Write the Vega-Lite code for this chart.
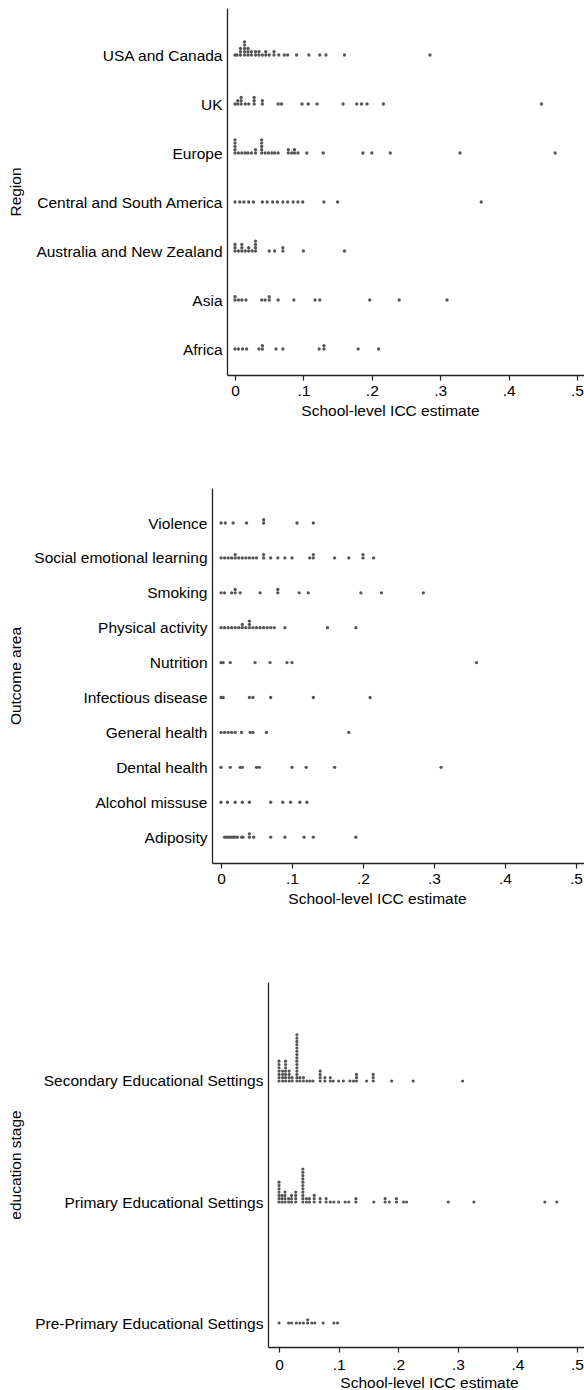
{
  "$schema": "https://vega.github.io/schema/vega-lite/v6.json",
  "padding": {"left": 7, "top": 8, "right": 0, "bottom": 0},
  "background": "white",
  "config": {
    "view": {"stroke": null},
    "font": "Liberation Sans",
    "axis": {
      "labelFont": "Liberation Sans", "titleFont": "Liberation Sans",
      "labelFontSize": 15.5, "titleFontSize": 15.5, "labelColor": "#000", "titleColor": "#000",
      "titleFontWeight": "normal", "domainColor": "#222", "domainWidth": 1.3, "tickColor": "#222", "tickWidth": 1.2,
      "grid": false, "labelLimit": 400
    }
  },
  "datasets": {
    "region": [
      {"category":"USA and Canada","icc":0},{"category":"USA and Canada","icc":0.003},{"category":"USA and Canada","icc":0.008},{"category":"USA and Canada","icc":0.008},{"category":"USA and Canada","icc":0.008},{"category":"USA and Canada","icc":0.014},{"category":"USA and Canada","icc":0.014},{"category":"USA and Canada","icc":0.014},{"category":"USA and Canada","icc":0.014},{"category":"USA and Canada","icc":0.014},{"category":"USA and Canada","icc":0.019},{"category":"USA and Canada","icc":0.019},{"category":"USA and Canada","icc":0.019},{"category":"USA and Canada","icc":0.024},{"category":"USA and Canada","icc":0.024},{"category":"USA and Canada","icc":0.03},{"category":"USA and Canada","icc":0.03},{"category":"USA and Canada","icc":0.035},{"category":"USA and Canada","icc":0.035},{"category":"USA and Canada","icc":0.04},{"category":"USA and Canada","icc":0.045},{"category":"USA and Canada","icc":0.045},{"category":"USA and Canada","icc":0.05},{"category":"USA and Canada","icc":0.057},{"category":"USA and Canada","icc":0.057},{"category":"USA and Canada","icc":0.064},{"category":"USA and Canada","icc":0.072},{"category":"USA and Canada","icc":0.077},{"category":"USA and Canada","icc":0.09},{"category":"USA and Canada","icc":0.108},{"category":"USA and Canada","icc":0.124},{"category":"USA and Canada","icc":0.133},{"category":"USA and Canada","icc":0.16},{"category":"USA and Canada","icc":0.285},
      {"category":"UK","icc":0},{"category":"UK","icc":0.004},{"category":"UK","icc":0.004},{"category":"UK","icc":0.009},{"category":"UK","icc":0.009},{"category":"UK","icc":0.009},{"category":"UK","icc":0.015},{"category":"UK","icc":0.02},{"category":"UK","icc":0.028},{"category":"UK","icc":0.028},{"category":"UK","icc":0.028},{"category":"UK","icc":0.04},{"category":"UK","icc":0.04},{"category":"UK","icc":0.063},{"category":"UK","icc":0.068},{"category":"UK","icc":0.098},{"category":"UK","icc":0.107},{"category":"UK","icc":0.12},{"category":"UK","icc":0.158},{"category":"UK","icc":0.178},{"category":"UK","icc":0.185},{"category":"UK","icc":0.193},{"category":"UK","icc":0.217},{"category":"UK","icc":0.448},
      {"category":"Europe","icc":0},{"category":"Europe","icc":0},{"category":"Europe","icc":0},{"category":"Europe","icc":0},{"category":"Europe","icc":0},{"category":"Europe","icc":0.005},{"category":"Europe","icc":0.01},{"category":"Europe","icc":0.015},{"category":"Europe","icc":0.019},{"category":"Europe","icc":0.024},{"category":"Europe","icc":0.03},{"category":"Europe","icc":0.03},{"category":"Europe","icc":0.039},{"category":"Europe","icc":0.039},{"category":"Europe","icc":0.039},{"category":"Europe","icc":0.039},{"category":"Europe","icc":0.039},{"category":"Europe","icc":0.044},{"category":"Europe","icc":0.049},{"category":"Europe","icc":0.054},{"category":"Europe","icc":0.058},{"category":"Europe","icc":0.063},{"category":"Europe","icc":0.078},{"category":"Europe","icc":0.078},{"category":"Europe","icc":0.083},{"category":"Europe","icc":0.087},{"category":"Europe","icc":0.087},{"category":"Europe","icc":0.092},{"category":"Europe","icc":0.105},{"category":"Europe","icc":0.129},{"category":"Europe","icc":0.187},{"category":"Europe","icc":0.2},{"category":"Europe","icc":0.227},{"category":"Europe","icc":0.329},{"category":"Europe","icc":0.468},
      {"category":"Central and South America","icc":0},{"category":"Central and South America","icc":0.007},{"category":"Central and South America","icc":0.013},{"category":"Central and South America","icc":0.02},{"category":"Central and South America","icc":0.027},{"category":"Central and South America","icc":0.04},{"category":"Central and South America","icc":0.047},{"category":"Central and South America","icc":0.055},{"category":"Central and South America","icc":0.062},{"category":"Central and South America","icc":0.07},{"category":"Central and South America","icc":0.077},{"category":"Central and South America","icc":0.085},{"category":"Central and South America","icc":0.092},{"category":"Central and South America","icc":0.099},{"category":"Central and South America","icc":0.13},{"category":"Central and South America","icc":0.15},{"category":"Central and South America","icc":0.36},
      {"category":"Australia and New Zealand","icc":0},{"category":"Australia and New Zealand","icc":0},{"category":"Australia and New Zealand","icc":0},{"category":"Australia and New Zealand","icc":0.005},{"category":"Australia and New Zealand","icc":0.01},{"category":"Australia and New Zealand","icc":0.01},{"category":"Australia and New Zealand","icc":0.01},{"category":"Australia and New Zealand","icc":0.015},{"category":"Australia and New Zealand","icc":0.02},{"category":"Australia and New Zealand","icc":0.02},{"category":"Australia and New Zealand","icc":0.025},{"category":"Australia and New Zealand","icc":0.03},{"category":"Australia and New Zealand","icc":0.03},{"category":"Australia and New Zealand","icc":0.03},{"category":"Australia and New Zealand","icc":0.03},{"category":"Australia and New Zealand","icc":0.05},{"category":"Australia and New Zealand","icc":0.058},{"category":"Australia and New Zealand","icc":0.07},{"category":"Australia and New Zealand","icc":0.07},{"category":"Australia and New Zealand","icc":0.1},{"category":"Australia and New Zealand","icc":0.16},
      {"category":"Asia","icc":0},{"category":"Asia","icc":0},{"category":"Asia","icc":0.005},{"category":"Asia","icc":0.01},{"category":"Asia","icc":0.016},{"category":"Asia","icc":0.039},{"category":"Asia","icc":0.044},{"category":"Asia","icc":0.05},{"category":"Asia","icc":0.05},{"category":"Asia","icc":0.063},{"category":"Asia","icc":0.086},{"category":"Asia","icc":0.117},{"category":"Asia","icc":0.124},{"category":"Asia","icc":0.197},{"category":"Asia","icc":0.24},{"category":"Asia","icc":0.31},
      {"category":"Africa","icc":0},{"category":"Africa","icc":0.005},{"category":"Africa","icc":0.011},{"category":"Africa","icc":0.017},{"category":"Africa","icc":0.035},{"category":"Africa","icc":0.04},{"category":"Africa","icc":0.04},{"category":"Africa","icc":0.06},{"category":"Africa","icc":0.07},{"category":"Africa","icc":0.123},{"category":"Africa","icc":0.13},{"category":"Africa","icc":0.13},{"category":"Africa","icc":0.18},{"category":"Africa","icc":0.21}
    ],
    "outcome": [
      {"category":"Violence","icc":0},{"category":"Violence","icc":0.006},{"category":"Violence","icc":0.017},{"category":"Violence","icc":0.036},{"category":"Violence","icc":0.06},{"category":"Violence","icc":0.06},{"category":"Violence","icc":0.107},{"category":"Violence","icc":0.13},
      {"category":"Social emotional learning","icc":0},{"category":"Social emotional learning","icc":0.005},{"category":"Social emotional learning","icc":0.01},{"category":"Social emotional learning","icc":0.015},{"category":"Social emotional learning","icc":0.02},{"category":"Social emotional learning","icc":0.02},{"category":"Social emotional learning","icc":0.025},{"category":"Social emotional learning","icc":0.03},{"category":"Social emotional learning","icc":0.035},{"category":"Social emotional learning","icc":0.04},{"category":"Social emotional learning","icc":0.045},{"category":"Social emotional learning","icc":0.05},{"category":"Social emotional learning","icc":0.06},{"category":"Social emotional learning","icc":0.06},{"category":"Social emotional learning","icc":0.07},{"category":"Social emotional learning","icc":0.08},{"category":"Social emotional learning","icc":0.09},{"category":"Social emotional learning","icc":0.1},{"category":"Social emotional learning","icc":0.125},{"category":"Social emotional learning","icc":0.13},{"category":"Social emotional learning","icc":0.13},{"category":"Social emotional learning","icc":0.16},{"category":"Social emotional learning","icc":0.18},{"category":"Social emotional learning","icc":0.2},{"category":"Social emotional learning","icc":0.2},{"category":"Social emotional learning","icc":0.215},
      {"category":"Smoking","icc":0},{"category":"Smoking","icc":0.005},{"category":"Smoking","icc":0.015},{"category":"Smoking","icc":0.02},{"category":"Smoking","icc":0.02},{"category":"Smoking","icc":0.027},{"category":"Smoking","icc":0.055},{"category":"Smoking","icc":0.08},{"category":"Smoking","icc":0.08},{"category":"Smoking","icc":0.11},{"category":"Smoking","icc":0.123},{"category":"Smoking","icc":0.197},{"category":"Smoking","icc":0.226},{"category":"Smoking","icc":0.285},
      {"category":"Physical activity","icc":0},{"category":"Physical activity","icc":0.005},{"category":"Physical activity","icc":0.01},{"category":"Physical activity","icc":0.015},{"category":"Physical activity","icc":0.02},{"category":"Physical activity","icc":0.025},{"category":"Physical activity","icc":0.03},{"category":"Physical activity","icc":0.03},{"category":"Physical activity","icc":0.035},{"category":"Physical activity","icc":0.04},{"category":"Physical activity","icc":0.04},{"category":"Physical activity","icc":0.04},{"category":"Physical activity","icc":0.045},{"category":"Physical activity","icc":0.05},{"category":"Physical activity","icc":0.055},{"category":"Physical activity","icc":0.06},{"category":"Physical activity","icc":0.065},{"category":"Physical activity","icc":0.07},{"category":"Physical activity","icc":0.075},{"category":"Physical activity","icc":0.09},{"category":"Physical activity","icc":0.15},{"category":"Physical activity","icc":0.19},
      {"category":"Nutrition","icc":0},{"category":"Nutrition","icc":0.003},{"category":"Nutrition","icc":0.013},{"category":"Nutrition","icc":0.048},{"category":"Nutrition","icc":0.069},{"category":"Nutrition","icc":0.093},{"category":"Nutrition","icc":0.1},{"category":"Nutrition","icc":0.36},
      {"category":"Infectious disease","icc":0},{"category":"Infectious disease","icc":0.003},{"category":"Infectious disease","icc":0.04},{"category":"Infectious disease","icc":0.045},{"category":"Infectious disease","icc":0.07},{"category":"Infectious disease","icc":0.13},{"category":"Infectious disease","icc":0.21},
      {"category":"General health","icc":0},{"category":"General health","icc":0.005},{"category":"General health","icc":0.01},{"category":"General health","icc":0.015},{"category":"General health","icc":0.02},{"category":"General health","icc":0.029},{"category":"General health","icc":0.041},{"category":"General health","icc":0.045},{"category":"General health","icc":0.064},{"category":"General health","icc":0.18},
      {"category":"Dental health","icc":0},{"category":"Dental health","icc":0.013},{"category":"Dental health","icc":0.027},{"category":"Dental health","icc":0.03},{"category":"Dental health","icc":0.05},{"category":"Dental health","icc":0.054},{"category":"Dental health","icc":0.1},{"category":"Dental health","icc":0.12},{"category":"Dental health","icc":0.16},{"category":"Dental health","icc":0.31},
      {"category":"Alcohol missuse","icc":0},{"category":"Alcohol missuse","icc":0.009},{"category":"Alcohol missuse","icc":0.02},{"category":"Alcohol missuse","icc":0.03},{"category":"Alcohol missuse","icc":0.04},{"category":"Alcohol missuse","icc":0.07},{"category":"Alcohol missuse","icc":0.087},{"category":"Alcohol missuse","icc":0.098},{"category":"Alcohol missuse","icc":0.111},{"category":"Alcohol missuse","icc":0.121},
      {"category":"Adiposity","icc":0.005},{"category":"Adiposity","icc":0.008},{"category":"Adiposity","icc":0.011},{"category":"Adiposity","icc":0.014},{"category":"Adiposity","icc":0.017},{"category":"Adiposity","icc":0.02},{"category":"Adiposity","icc":0.023},{"category":"Adiposity","icc":0.029},{"category":"Adiposity","icc":0.031},{"category":"Adiposity","icc":0.04},{"category":"Adiposity","icc":0.04},{"category":"Adiposity","icc":0.046},{"category":"Adiposity","icc":0.07},{"category":"Adiposity","icc":0.09},{"category":"Adiposity","icc":0.117},{"category":"Adiposity","icc":0.13},{"category":"Adiposity","icc":0.19}
    ],
    "stage": [
      {"category":"Secondary Educational Settings","icc":0},{"category":"Secondary Educational Settings","icc":0},{"category":"Secondary Educational Settings","icc":0},{"category":"Secondary Educational Settings","icc":0},{"category":"Secondary Educational Settings","icc":0},{"category":"Secondary Educational Settings","icc":0},{"category":"Secondary Educational Settings","icc":0},
      {"category":"Secondary Educational Settings","icc":0.006},{"category":"Secondary Educational Settings","icc":0.006},{"category":"Secondary Educational Settings","icc":0.006},{"category":"Secondary Educational Settings","icc":0.006},
      {"category":"Secondary Educational Settings","icc":0.011},{"category":"Secondary Educational Settings","icc":0.011},{"category":"Secondary Educational Settings","icc":0.011},{"category":"Secondary Educational Settings","icc":0.011},{"category":"Secondary Educational Settings","icc":0.011},{"category":"Secondary Educational Settings","icc":0.011},{"category":"Secondary Educational Settings","icc":0.011},
      {"category":"Secondary Educational Settings","icc":0.017},{"category":"Secondary Educational Settings","icc":0.017},{"category":"Secondary Educational Settings","icc":0.017},{"category":"Secondary Educational Settings","icc":0.017},
      {"category":"Secondary Educational Settings","icc":0.022},{"category":"Secondary Educational Settings","icc":0.022},
      {"category":"Secondary Educational Settings","icc":0.03},{"category":"Secondary Educational Settings","icc":0.03},{"category":"Secondary Educational Settings","icc":0.03},{"category":"Secondary Educational Settings","icc":0.03},{"category":"Secondary Educational Settings","icc":0.03},{"category":"Secondary Educational Settings","icc":0.03},{"category":"Secondary Educational Settings","icc":0.03},{"category":"Secondary Educational Settings","icc":0.03},{"category":"Secondary Educational Settings","icc":0.03},{"category":"Secondary Educational Settings","icc":0.03},{"category":"Secondary Educational Settings","icc":0.03},{"category":"Secondary Educational Settings","icc":0.03},{"category":"Secondary Educational Settings","icc":0.03},{"category":"Secondary Educational Settings","icc":0.03},{"category":"Secondary Educational Settings","icc":0.03},
      {"category":"Secondary Educational Settings","icc":0.035},{"category":"Secondary Educational Settings","icc":0.035},{"category":"Secondary Educational Settings","icc":0.041},{"category":"Secondary Educational Settings","icc":0.041},{"category":"Secondary Educational Settings","icc":0.047},{"category":"Secondary Educational Settings","icc":0.052},{"category":"Secondary Educational Settings","icc":0.057},
      {"category":"Secondary Educational Settings","icc":0.069},{"category":"Secondary Educational Settings","icc":0.069},{"category":"Secondary Educational Settings","icc":0.069},{"category":"Secondary Educational Settings","icc":0.069},
      {"category":"Secondary Educational Settings","icc":0.077},{"category":"Secondary Educational Settings","icc":0.077},{"category":"Secondary Educational Settings","icc":0.086},{"category":"Secondary Educational Settings","icc":0.086},{"category":"Secondary Educational Settings","icc":0.091},{"category":"Secondary Educational Settings","icc":0.1},{"category":"Secondary Educational Settings","icc":0.108},{"category":"Secondary Educational Settings","icc":0.119},{"category":"Secondary Educational Settings","icc":0.125},
      {"category":"Secondary Educational Settings","icc":0.13},{"category":"Secondary Educational Settings","icc":0.13},{"category":"Secondary Educational Settings","icc":0.13},{"category":"Secondary Educational Settings","icc":0.147},{"category":"Secondary Educational Settings","icc":0.158},{"category":"Secondary Educational Settings","icc":0.158},{"category":"Secondary Educational Settings","icc":0.158},{"category":"Secondary Educational Settings","icc":0.189},{"category":"Secondary Educational Settings","icc":0.225},{"category":"Secondary Educational Settings","icc":0.308},
      {"category":"Primary Educational Settings","icc":0},{"category":"Primary Educational Settings","icc":0},{"category":"Primary Educational Settings","icc":0},{"category":"Primary Educational Settings","icc":0},{"category":"Primary Educational Settings","icc":0},{"category":"Primary Educational Settings","icc":0},{"category":"Primary Educational Settings","icc":0},
      {"category":"Primary Educational Settings","icc":0.005},{"category":"Primary Educational Settings","icc":0.005},{"category":"Primary Educational Settings","icc":0.005},
      {"category":"Primary Educational Settings","icc":0.01},{"category":"Primary Educational Settings","icc":0.01},{"category":"Primary Educational Settings","icc":0.01},{"category":"Primary Educational Settings","icc":0.01},
      {"category":"Primary Educational Settings","icc":0.016},{"category":"Primary Educational Settings","icc":0.016},
      {"category":"Primary Educational Settings","icc":0.021},{"category":"Primary Educational Settings","icc":0.021},{"category":"Primary Educational Settings","icc":0.021},
      {"category":"Primary Educational Settings","icc":0.028},{"category":"Primary Educational Settings","icc":0.028},{"category":"Primary Educational Settings","icc":0.028},{"category":"Primary Educational Settings","icc":0.028},
      {"category":"Primary Educational Settings","icc":0.04},{"category":"Primary Educational Settings","icc":0.04},{"category":"Primary Educational Settings","icc":0.04},{"category":"Primary Educational Settings","icc":0.04},{"category":"Primary Educational Settings","icc":0.04},{"category":"Primary Educational Settings","icc":0.04},{"category":"Primary Educational Settings","icc":0.04},{"category":"Primary Educational Settings","icc":0.04},{"category":"Primary Educational Settings","icc":0.04},{"category":"Primary Educational Settings","icc":0.04},{"category":"Primary Educational Settings","icc":0.04},
      {"category":"Primary Educational Settings","icc":0.046},{"category":"Primary Educational Settings","icc":0.046},{"category":"Primary Educational Settings","icc":0.051},{"category":"Primary Educational Settings","icc":0.051},
      {"category":"Primary Educational Settings","icc":0.059},{"category":"Primary Educational Settings","icc":0.059},{"category":"Primary Educational Settings","icc":0.059},
      {"category":"Primary Educational Settings","icc":0.069},{"category":"Primary Educational Settings","icc":0.069},{"category":"Primary Educational Settings","icc":0.079},{"category":"Primary Educational Settings","icc":0.079},
      {"category":"Primary Educational Settings","icc":0.086},{"category":"Primary Educational Settings","icc":0.092},{"category":"Primary Educational Settings","icc":0.1},{"category":"Primary Educational Settings","icc":0.111},{"category":"Primary Educational Settings","icc":0.117},{"category":"Primary Educational Settings","icc":0.129},{"category":"Primary Educational Settings","icc":0.129},
      {"category":"Primary Educational Settings","icc":0.159},{"category":"Primary Educational Settings","icc":0.178},{"category":"Primary Educational Settings","icc":0.178},{"category":"Primary Educational Settings","icc":0.185},{"category":"Primary Educational Settings","icc":0.197},{"category":"Primary Educational Settings","icc":0.197},{"category":"Primary Educational Settings","icc":0.209},{"category":"Primary Educational Settings","icc":0.214},{"category":"Primary Educational Settings","icc":0.284},{"category":"Primary Educational Settings","icc":0.327},{"category":"Primary Educational Settings","icc":0.446},{"category":"Primary Educational Settings","icc":0.466},
      {"category":"Pre-Primary Educational Settings","icc":0},{"category":"Pre-Primary Educational Settings","icc":0.016},{"category":"Pre-Primary Educational Settings","icc":0.021},{"category":"Pre-Primary Educational Settings","icc":0.029},{"category":"Pre-Primary Educational Settings","icc":0.035},{"category":"Pre-Primary Educational Settings","icc":0.041},{"category":"Pre-Primary Educational Settings","icc":0.048},{"category":"Pre-Primary Educational Settings","icc":0.048},{"category":"Pre-Primary Educational Settings","icc":0.055},{"category":"Pre-Primary Educational Settings","icc":0.06},{"category":"Pre-Primary Educational Settings","icc":0.074},{"category":"Pre-Primary Educational Settings","icc":0.092},{"category":"Pre-Primary Educational Settings","icc":0.098}
    ]
  },
  "concat": [
    {
      "concat": [
        {
          "data": {"name": "region"},
          "width": 372, "height": 367,
          "transform": [{"window": [{"op": "row_number", "as": "level"}], "groupby": ["category", "icc"]}],
          "mark": {"type": "circle", "size": 11, "color": "#555555", "opacity": 1},
          "encoding": {
            "x": {"field": "icc", "type": "quantitative",
                  "scale": {"domain": [-0.0117, 0.5102], "range": [15, 372], "nice": false, "zero": false},
                  "axis": {"values": [0, 0.1, 0.2, 0.3, 0.4, 0.5], "labelExpr": "datum.value == 0 ? '0' : replace(format(datum.value, '.1f'), '0.', '.')",
                           "labelFlush": false, "labelOverlap": false, "tickSize": 5, "labelPadding": 3,
                           "title": "School-level ICC estimate", "titleX": 178, "titleY": 40, "titleBaseline": "alphabetic"}},
            "y": {"field": "category", "type": "nominal",
                  "scale": {"type": "point", "domain": ["USA and Canada", "UK", "Europe", "Central and South America", "Australia and New Zealand", "Asia", "Africa"], "padding": 0.745, "align": 0.644},
                  "axis": {"title": "Region", "ticks": false, "labelPadding": 5, "offset": -15, "titleX": -212, "titleBaseline": "middle"}},
            "yOffset": {"field": "level", "type": "quantitative", "scale": {"domain": [1, 21], "range": [0, -66]}}
          }
        },
        {
          "data": {"name": "outcome"},
          "width": 372, "height": 375,
          "transform": [{"window": [{"op": "row_number", "as": "level"}], "groupby": ["category", "icc"]}],
          "mark": {"type": "circle", "size": 11, "color": "#555555", "opacity": 1},
          "encoding": {
            "x": {"field": "icc", "type": "quantitative",
                  "scale": {"domain": [-0.0127, 0.5113], "range": [0, 372], "nice": false, "zero": false},
                  "axis": {"values": [0, 0.1, 0.2, 0.3, 0.4, 0.5], "labelExpr": "datum.value == 0 ? '0' : replace(format(datum.value, '.1f'), '0.', '.')",
                           "labelFlush": false, "labelOverlap": false, "tickSize": 5, "labelPadding": 3,
                           "title": "School-level ICC estimate", "titleX": 165, "titleY": 40, "titleBaseline": "alphabetic"}},
            "y": {"field": "category", "type": "nominal",
                  "scale": {"type": "point", "domain": ["Violence", "Social emotional learning", "Smoking", "Physical activity", "Nutrition", "Infectious disease", "General health", "Dental health", "Alcohol missuse", "Adiposity"], "padding": 0.872, "align": 0.575},
                  "axis": {"title": "Outcome area", "ticks": false, "labelPadding": 5, "titleX": -197, "titleBaseline": "middle"}},
            "yOffset": {"field": "level", "type": "quantitative", "scale": {"domain": [1, 21], "range": [0, -66]}}
          }
        }
      ],
      "columns": 1, "spacing": 69
    },
    {
      "data": {"name": "stage"},
      "width": 372, "height": 365,
      "transform": [{"window": [{"op": "row_number", "as": "level"}], "groupby": ["category", "icc"]}],
      "mark": {"type": "circle", "size": 10, "color": "#555555", "opacity": 1},
      "encoding": {
        "x": {"field": "icc", "type": "quantitative",
              "scale": {"domain": [-0.0185, 0.5117], "range": [56, 372], "nice": false, "zero": false},
              "axis": {"values": [0, 0.1, 0.2, 0.3, 0.4, 0.5], "labelExpr": "datum.value == 0 ? '0' : replace(format(datum.value, '.1f'), '0.', '.')",
                       "labelFlush": false, "labelOverlap": false, "tickSize": 5, "labelPadding": 5,
                       "title": "School-level ICC estimate", "titleX": 217, "titleY": 40, "titleBaseline": "alphabetic"}},
        "y": {"field": "category", "type": "nominal",
              "scale": {"type": "point", "domain": ["Secondary Educational Settings", "Primary Educational Settings", "Pre-Primary Educational Settings"], "padding": 0.508, "align": 0.805},
              "axis": {"title": "education stage", "ticks": false, "labelPadding": 5, "offset": -56, "titleX": -253, "titleBaseline": "middle"}},
        "yOffset": {"field": "level", "type": "quantitative", "scale": {"domain": [1, 21], "range": [0, -66]}}
      }
    }
  ],
  "columns": 1, "spacing": 75
}
